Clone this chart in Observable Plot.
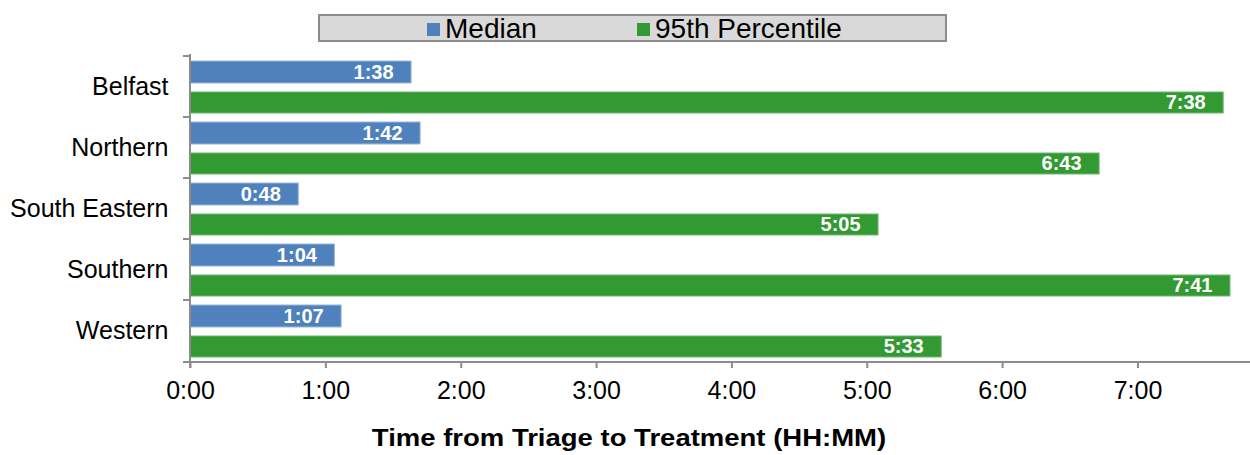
<!DOCTYPE html>
<html><head><meta charset="utf-8">
<script src="https://cdn.jsdelivr.net/npm/d3@7"></script>
<script src="https://cdn.jsdelivr.net/npm/@observablehq/plot@0.6"></script>
<style>
body{margin:0;background:#fff;font-family:"Liberation Sans",Arial,sans-serif;}
#wrap{width:1250px;height:455px;position:relative;overflow:hidden;background:#fff}
#legend{position:absolute;left:318px;top:14px;width:625px;height:24px;background:#d9d9d9;border:2px solid #8c8c8c;}
.item{position:absolute;top:0;display:flex;align-items:center;font-size:28px;height:26px;color:#000;white-space:nowrap}
.sw{width:13px;height:13px;margin-right:5px}
#chart{position:absolute;left:0;top:44px}
#title{position:absolute;left:0;top:425px;width:1258px;text-align:center;font-weight:bold;font-size:23.5px;line-height:26px;transform:scaleX(1.17);transform-origin:629px 0}
</style></head>
<body>
<div id="wrap">
  <div id="legend"></div>
  <div id="chart"></div>
  <div id="title"></div>
</div>
<script>
const regions = ["Belfast", "Northern", "South Eastern", "Southern", "Western"];
const seriesNames = ["Median", "95th Percentile"];
const medianMinutes = [98, 102, 48, 64, 67];
const p95Minutes = [458, 403, 305, 461, 333];
const xTicks = [0, 60, 120, 180, 240, 300, 360, 420];
const seriesColors = ["#4f81bd", "#339933"];
const axisTitle = "Time from Triage to Treatment (HH:MM)";

const fmt = m => `${Math.floor(m / 60)}:${String(Math.round(m % 60)).padStart(2, "0")}`;
const medianData = regions.map((r, i) => ({region: r, value: medianMinutes[i]}));
const p95Data = regions.map((r, i) => ({region: r, value: p95Minutes[i]}));

// legend
const legend = document.getElementById("legend");
const legendLefts = [107, 317];
seriesNames.forEach((s, i) => {
  const it = document.createElement("div");
  it.className = "item";
  it.style.left = legendLefts[i] + "px";
  it.innerHTML = `<span class="sw" style="background:${seriesColors[i]}"></span><span>${s}</span>`;
  legend.appendChild(it);
});
document.getElementById("title").textContent = axisTitle;

const axisColor = "#8c8c8c";
const labelStyle = {fill: "white", fontWeight: "bold", fontSize: 20, textAnchor: "end", dx: -18};

const plot = Plot.plot({
  width: 1250, height: 370,
  marginTop: 10, marginBottom: 52, marginLeft: 190, marginRight: 2,
  style: {fontFamily: '"Liberation Sans", Arial, sans-serif', fontSize: "25px", color: "#000", background: "#fff"},
  x: {domain: [0, 469]},
  y: {domain: regions, padding: 0},
  marks: [
    Plot.barX(medianData, {x: "value", y: "region", fill: seriesColors[0], stroke: "#9bb6da", strokeWidth: 1, insetTop: 5, insetBottom: 34}),
    Plot.barX(p95Data, {x: "value", y: "region", fill: seriesColors[1], stroke: "#6fb86f", strokeWidth: 1, insetTop: 36, insetBottom: 4}),
    Plot.text(medianData, {x: "value", y: "region", text: d => fmt(d.value), dy: -14.5, ...labelStyle}),
    Plot.text(p95Data, {x: "value", y: "region", text: d => fmt(d.value), dy: 16, ...labelStyle}),
    Plot.axisY({tickSize: 0, tickPadding: 22, label: null, fontSize: 25}),
    Plot.axisX({ticks: xTicks, tickFormat: fmt, tickSize: 6, tickPadding: 13, label: null, stroke: axisColor, strokeWidth: 2, fontSize: 25}),
    (index, scales, values, dims) => {
      const {marginLeft: ml, marginTop: mt, marginBottom: mb, height, width} = dims;
      const bottom = height - mb;
      const g = d3.create("svg:g").attr("stroke", axisColor).attr("stroke-width", 2);
      g.append("line").attr("x1", ml).attr("x2", ml).attr("y1", mt).attr("y2", bottom + 6);
      g.append("line").attr("x1", ml - 7).attr("x2", width).attr("y1", bottom).attr("y2", bottom);
      regions.forEach(r => {
        const e = scales.y(r);
        g.append("line").attr("x1", ml - 7).attr("x2", ml).attr("y1", e).attr("y2", e);
      });
      return g.node();
    }
  ]
});
document.getElementById("chart").appendChild(plot);
</script>
</body></html>
